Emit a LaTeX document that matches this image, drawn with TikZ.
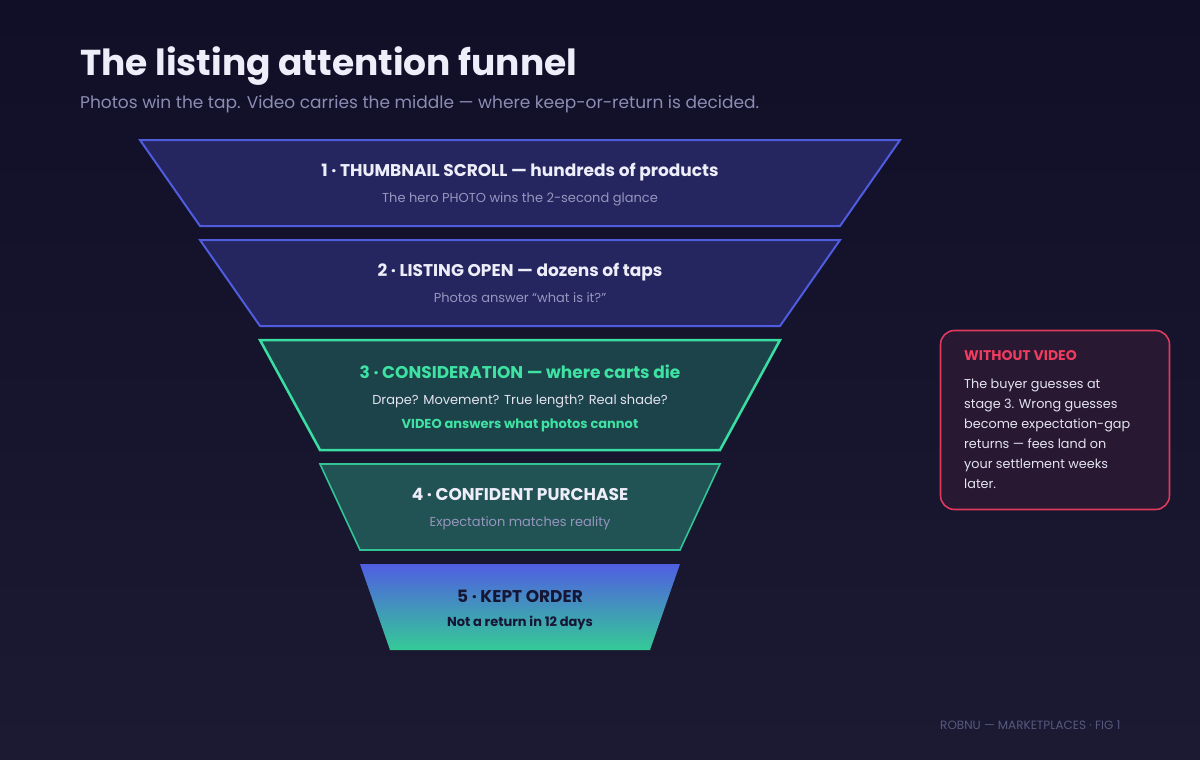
\documentclass[tikz,border=0pt]{standalone}
\usepackage{fontspec}
\setmainfont{Poppins}
\definecolor{bgtop}{RGB}{16,15,39}
\definecolor{bgbot}{RGB}{27,26,50}
\definecolor{titlec}{RGB}{238,238,250}
\definecolor{subc}{RGB}{140,140,180}
\definecolor{bluefill}{RGB}{37,37,96}
\definecolor{blueline}{RGB}{80,92,222}
\definecolor{tealfill}{RGB}{28,66,74}
\definecolor{tealfillb}{RGB}{33,82,84}
\definecolor{greenline}{RGB}{58,222,162}
\definecolor{greenlineb}{RGB}{50,196,148}
\definecolor{greentxt}{RGB}{62,226,162}
\definecolor{graytxt}{RGB}{150,150,190}
\definecolor{lighttxt}{RGB}{228,228,240}
\definecolor{kepttop}{RGB}{80,94,226}
\definecolor{keptbot}{RGB}{52,202,150}
\definecolor{darktxt}{RGB}{22,22,52}
\definecolor{redline}{RGB}{222,58,92}
\definecolor{redfill}{RGB}{40,24,50}
\definecolor{redtxt}{RGB}{240,60,95}
\definecolor{footc}{RGB}{88,88,128}
\tikzset{
  hd/.style={font=\fontsize{17}{19}\selectfont\bfseries, inner sep=0pt, anchor=base},
  sb/.style={font=\fontsize{13}{15}\selectfont, inner sep=0pt, anchor=base, text=graytxt},
  bluestage/.style={fill=bluefill, draw=blueline, line width=2pt, line join=miter},
  sidetxt/.style={font=\fontsize{12.8}{15}\selectfont, inner sep=0pt, anchor=base west, text=lighttxt}
}
\begin{document}
\begin{tikzpicture}[x=1pt,y=-1pt]
\useasboundingbox (0,0) rectangle (1200,760);
\shade[top color=bgtop,bottom color=bgbot] (0,0) rectangle (1200,760);

% title
\node[inner sep=0pt, anchor=base west, text=titlec, font=\fontsize{36}{42}\selectfont\bfseries] (title) at (80,76) {The listing attention funnel};
\node[inner sep=0pt, anchor=base west, text=subc, font=\fontsize{17}{20}\selectfont] (subtitle) at (80,108) {Photos win the tap. Video carries the middle — where keep-or-return is decided.};

% stage 1
\draw[bluestage] (140,140) -- (900,140) -- (840,226) -- (200,226) -- cycle;
\node[hd, text=titlec] (s1t) at (520,176) {1 · THUMBNAIL SCROLL — hundreds of products};
\node[sb] (s1s) at (520,202) {The hero PHOTO wins the 2-second glance};

% stage 2
\draw[bluestage] (200,240) -- (840,240) -- (780,326) -- (260,326) -- cycle;
\node[hd, text=titlec] (s2t) at (520,276) {2 · LISTING OPEN — dozens of taps};
\node[sb] (s2s) at (520,302) {Photos answer “what is it?”};

% stage 3
\draw[fill=tealfill, draw=greenline, line width=2.5pt] (260,340) -- (780,340) -- (720,450) -- (320,450) -- cycle;
\node[hd, text=greentxt] (s3t) at (520,378) {3 · CONSIDERATION — where carts die};
\node[sb, text=lighttxt] (s3s) at (520,404) {Drape? Movement? True length? Real shade?};
\node[sb, text=greentxt, font=\fontsize{13}{15}\selectfont\bfseries] (s3v) at (520,428) {VIDEO answers what photos cannot};

% stage 4
\draw[fill=tealfillb, draw=greenlineb, line width=1.6pt] (320,464) -- (720,464) -- (680,550) -- (360,550) -- cycle;
\node[hd, text=titlec] (s4t) at (520,500) {4 · CONFIDENT PURCHASE};
\node[sb] (s4s) at (520,526) {Expectation matches reality};

% stage 5
\shade[top color=kepttop, bottom color=keptbot] (360,564) -- (680,564) -- (650,650) -- (390,650) -- cycle;
\node[hd, text=darktxt] (s5t) at (520,602) {5 · KEPT ORDER};
\node[sb, text=darktxt, font=\fontsize{13}{15}\selectfont\bfseries] (s5s) at (520,626) {Not a return in 12 days};

% side box
\node[draw=redline, fill=redfill, line width=1.6pt, rounded corners=14pt, minimum width=229pt, minimum height=179pt, inner sep=0pt] (side) at (1055,420) {};
\node[inner sep=0pt, anchor=base west, text=redtxt, font=\fontsize{14}{16}\selectfont\bfseries] (sideh) at (964,360) {WITHOUT VIDEO};
\node[sidetxt] (l1) at (964,388) {The buyer guesses at};
\node[sidetxt] (l2) at (964,408) {stage 3. Wrong guesses};
\node[sidetxt] (l3) at (964,428) {become expectation-gap};
\node[sidetxt] (l4) at (964,448) {returns — fees land on};
\node[sidetxt] (l5) at (964,468) {your settlement weeks};
\node[sidetxt] (l6) at (964,488) {later.};

% footer
\node[inner sep=0pt, anchor=base west, text=footc, font=\fontsize{12}{14}\selectfont] (foot) at (940,729) {ROBNU — MARKETPLACES · FIG 1};
\end{tikzpicture}
\end{document}
